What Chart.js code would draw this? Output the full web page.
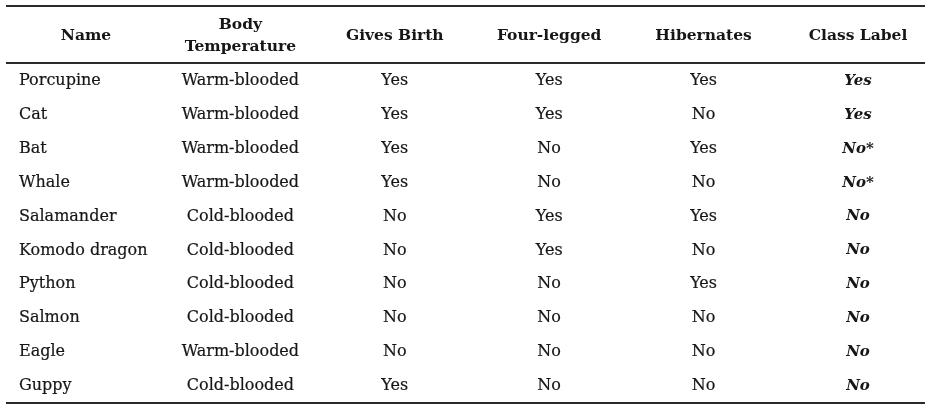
<!DOCTYPE html>
<html>
<head>
<meta charset="utf-8">
<script src="https://cdn.jsdelivr.net/npm/chart.js@4/dist/chart.umd.min.js"></script>
<style>
html,body{margin:0;padding:0;background:#fff;}
#wrap{width:944px;height:414px;}
</style>
</head>
<body>
<div id="wrap"><canvas id="c" width="944" height="414"></canvas></div>
<script>
// ---- data ----
const headers = [["Name"], ["Body", "Temperature"], ["Gives Birth"], ["Four-legged"], ["Hibernates"], ["Class Label"]];
const names = ["Porcupine", "Cat", "Bat", "Whale", "Salamander", "Komodo dragon", "Python", "Salmon", "Eagle", "Guppy"];
const bodyTemperature = ["Warm-blooded", "Warm-blooded", "Warm-blooded", "Warm-blooded", "Cold-blooded", "Cold-blooded", "Cold-blooded", "Cold-blooded", "Warm-blooded", "Cold-blooded"];
const givesBirth = ["Yes", "Yes", "Yes", "Yes", "No", "No", "No", "No", "No", "Yes"];
const fourLegged = ["Yes", "Yes", "No", "No", "Yes", "Yes", "No", "No", "No", "No"];
const hibernates = ["Yes", "No", "Yes", "No", "Yes", "No", "Yes", "No", "No", "No"];
const classLabel = ["Yes", "Yes", "No*", "No*", "No", "No", "No", "No", "No", "No"];

const columns = [names, bodyTemperature, givesBirth, fourLegged, hibernates, classLabel];
const HEADER_ROW = -1.33;

const FONT = '"DejaVu Serif", "Liberation Serif", serif';
const TEXT = '#161616';

function cellData(colIdx) {
  return columns[colIdx].map((v, r) => ({ x: colIdx, y: r, label: v }));
}

const datasets = columns.map((col, ci) => ({
  label: headers[ci].join(' '),
  data: cellData(ci),
  pointRadius: 0,
  pointHoverRadius: 0,
  showLine: false
}));
datasets.push({
  label: 'header',
  data: headers.map((h, ci) => ({ x: ci, y: HEADER_ROW, label: h })),
  pointRadius: 0, pointHoverRadius: 0, showLine: false
});

const tablePlugin = {
  id: 'tableText',
  afterDatasetsDraw(chart) {
    const ctx = chart.ctx;
    const ca = chart.chartArea;
    const ys = chart.scales.y;
    ctx.save();
    // rules
    ctx.strokeStyle = '#2a2a2a';
    [ -2.21, -0.53, 9.5 ].forEach((v, i) => {
      const py = Math.round(ys.getPixelForValue(v));
      ctx.lineWidth = i === 1 ? 1.8 : 2.2;
      ctx.beginPath();
      ctx.moveTo(ca.left, py);
      ctx.lineTo(ca.right, py);
      ctx.stroke();
    });
    ctx.fillStyle = TEXT;
    ctx.strokeStyle = TEXT;
    ctx.textBaseline = 'middle';
    chart.data.datasets.forEach((ds, di) => {
      const meta = chart.getDatasetMeta(di);
      const isHeader = ds.label === 'header';
      meta.data.forEach((pt, i) => {
        const d = ds.data[i];
        const ci = d.x;
        if (isHeader) {
          ctx.font = 'bold 15.5px ' + FONT;
          const lines = d.label;
          const lh = 22;
          lines.forEach((ln, li) => {
            const y = pt.y + (li - (lines.length - 1) / 2) * lh;
            ctx.textAlign = 'center';
            ctx.fillText(ln, pt.x, y);
          });
        } else {
          let stroke = 0;
          if (ci === 5) { ctx.font = 'italic bold 15px ' + FONT; }
          else { ctx.font = '16px ' + FONT; stroke = 0.2; }
          let x = pt.x;
          if (ci === 0) { ctx.textAlign = 'left'; x = ca.left + 13; }
          else ctx.textAlign = 'center';
          ctx.fillText(d.label, x, pt.y);
          if (stroke) { ctx.lineWidth = stroke; ctx.strokeText(d.label, x, pt.y); }
        }
      });
    });
    ctx.restore();
  }
};

new Chart(document.getElementById('c'), {
  type: 'scatter',
  data: { datasets },
  options: {
    responsive: false,
    animation: false,
    events: [],
    layout: { padding: { left: 6, right: 19, top: 6, bottom: 11 } },
    plugins: { legend: { display: false }, tooltip: { enabled: false } },
    scales: {
      x: { type: 'linear', min: -0.518, max: 5.434, display: false },
      y: { type: 'linear', min: -2.21, max: 9.5, reverse: true, display: false }
    }
  },
  plugins: [tablePlugin]
});
</script>
</body>
</html>
